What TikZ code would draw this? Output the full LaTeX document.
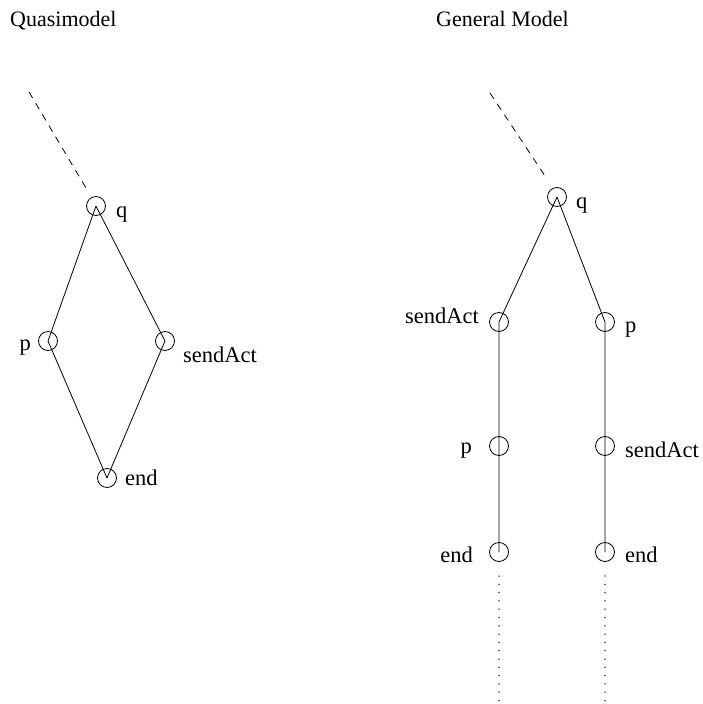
\documentclass[tikz,border=0pt]{standalone}
\usepackage{fontspec}
\setmainfont{Liberation Serif}
\begin{document}
\begin{tikzpicture}[x=1pt,y=-1pt,
  state/.style={draw,circle,minimum size=19pt,inner sep=0pt,line width=0.8pt},
  edge/.style={line width=0.8pt},
  lbl/.style={inner sep=0pt,font=\fontsize{22.5}{26}\selectfont},
  ttl/.style={inner sep=0pt,font=\fontsize{22}{26}\selectfont},
  incoming/.style={line width=0.8pt,dash pattern=on 7pt off 6pt},
  outgoing/.style={line width=1.5pt,line cap=round,dash pattern=on 0pt off 8.3pt}]
\useasboundingbox (0,0) rectangle (702,704);

% titles
\node[ttl,anchor=base west] (t1) at (10,26) {Quasimodel};
\node[ttl,anchor=base west] (t2) at (436,26) {General Model};

% ---- quasimodel ----
\node[state] (q)  at (96,206) {};
\node[state] (p)  at (48,341) {};
\node[state] (s)  at (165,341) {};
\node[state] (e)  at (107,478) {};
\coordinate (qin) at (29,92);
\draw[incoming] (qin) -- (86,188);
\draw[edge] (q.center) -- (p.center) -- (e.center);
\draw[edge] (q.center) -- (s.center) -- (e.center);

\node[lbl,anchor=base west] (lq) at (116,217) {q};
\node[lbl,anchor=base east] (lp) at (31,350) {p};
\node[lbl,anchor=base west] (ls) at (183,362) {sendAct};
\node[lbl,anchor=base west] (le) at (125,485) {end};

% ---- general model ----
\node[state] (gq)  at (557,197) {};
\node[state] (gs1) at (499,322) {};
\node[state] (gp1) at (605,322) {};
\node[state] (gp2) at (499,446) {};
\node[state] (gs2) at (605,446) {};
\node[state] (ge1) at (499,552) {};
\node[state] (ge2) at (605,552) {};
\coordinate (gqin) at (490,93);
\draw[incoming] (gqin) -- (547,179);
\draw[edge] (gq.center) -- (gs1.center) -- (gp2.center) -- (ge1.center);
\draw[edge] (gq.center) -- (gp1.center) -- (gs2.center) -- (ge2.center);
\coordinate (go1) at (499,702);
\coordinate (go2) at (605,702);
\draw[outgoing] (499,576) -- (go1);
\draw[outgoing] (605,576) -- (go2);

\node[lbl,anchor=base west] (lgq)  at (576,208) {q};
\node[lbl,anchor=base east] (lgs1) at (479,323) {sendAct};
\node[lbl,anchor=base west] (lgp1) at (625,332) {p};
\node[lbl,anchor=base east] (lgp2) at (472,453) {p};
\node[lbl,anchor=base west] (lgs2) at (625,457) {sendAct};
\node[lbl,anchor=base east] (lge1) at (473,562) {end};
\node[lbl,anchor=base west] (lge2) at (625,562) {end};
\end{tikzpicture}
\end{document}
